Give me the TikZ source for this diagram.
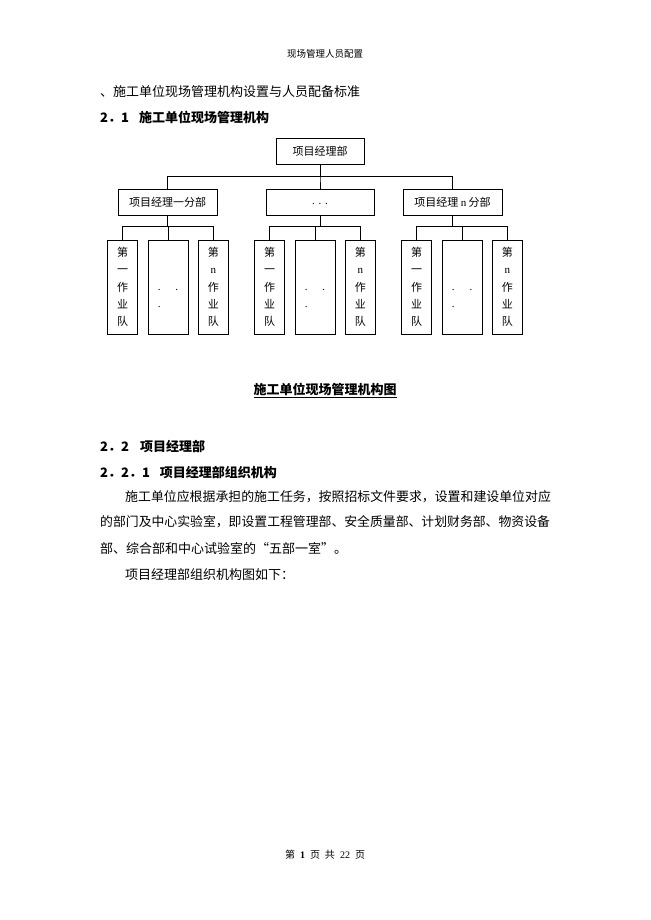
\documentclass[tikz,border=0pt]{standalone}
\usepackage{fontspec}
\setmainfont{Noto Sans CJK SC}
\newfontfamily\lat{Liberation Serif}
\usetikzlibrary{positioning}

\begin{document}
\begin{tikzpicture}[x=1pt, y=-1pt,
  txt/.style={inner sep=0pt, anchor=west, font=\fontsize{13}{13}\selectfont},
  bold/.style={txt, font=\fontsize{13}{13}\selectfont\bfseries},
  box/.style={draw, line width=0.8pt, inner sep=0pt, minimum height=26pt,
              font=\fontsize{11}{13}\selectfont},
  team/.style={box, minimum width=30pt, minimum height=94pt, align=center,
               font=\fontsize{11}{17.3}\selectfont},
  dots/.style={team, minimum width=40pt, align=left},
  link/.style={draw, line width=0.8pt}
]
\useasboundingbox[fill=white] (0,0) rectangle (650,920);

% page text above the chart
\node[font=\fontsize{9.5}{10}\selectfont] (hdr) at (325,54) {现场管理人员配置};
\node[txt] (sec2) at (100,92) {、施工单位现场管理机构设置与人员配备标准};
\node[bold] (sec21) at (100,117) {2．1\hspace{10pt}施工单位现场管理机构};

% chart
\node[box, minimum width=88pt] (pm) at (320,151) {项目经理部};
\node[box, minimum width=99pt] (b1) at (167.5,202) {项目经理一分部};
\node[box, minimum width=108pt] (bx) at (320,202) {\strut\lat .\hspace{3.8pt}.\hspace{3.8pt}.};
\node[box, minimum width=99pt] (bn) at (452.5,202) {项目经理 {\lat n} 分部};

\node[dots] (t1b) at (168,287) {\strut\\\strut\\{\lat .\hspace{15pt}.}\\{\lat .}\\\strut};
\node[team, left=9.5pt of t1b] (t1a) {第\\一\\作\\业\\队};
\node[team, right=9.5pt of t1b] (t1c) {第\\{\lat n}\\作\\业\\队};

\node[dots] (t2b) at (315,287) {\strut\\\strut\\{\lat .\hspace{15pt}.}\\{\lat .}\\\strut};
\node[team, left=9.5pt of t2b] (t2a) {第\\一\\作\\业\\队};
\node[team, right=9.5pt of t2b] (t2c) {第\\{\lat n}\\作\\业\\队};

\node[dots] (tnb) at (462,287) {\strut\\\strut\\{\lat .\hspace{15pt}.}\\{\lat .}\\\strut};
\node[team, left=9.5pt of tnb] (tna) {第\\一\\作\\业\\队};
\node[team, right=9.5pt of tnb] (tnc) {第\\{\lat n}\\作\\业\\队};

\draw[link] (pm.south) |- ([yshift=12.5pt]b1.north) -- (b1.north);
\draw[link] (pm.south) |- ([yshift=12.5pt]bx.north) -- (bx.north);
\draw[link] (pm.south) |- ([yshift=12.5pt]bn.north) -- (bn.north);

\draw[link] (b1.south) |- ([yshift=13pt]t1a.north) -- (t1a.north);
\draw[link] (b1.south) |- ([yshift=13pt]t1b.north) -- (t1b.north);
\draw[link] (b1.south) |- ([yshift=13pt]t1c.north) -- (t1c.north);
\draw[link] (bx.south) |- ([yshift=13pt]t2a.north) -- (t2a.north);
\draw[link] (bx.south) |- ([yshift=13pt]t2b.north) -- (t2b.north);
\draw[link] (bx.south) |- ([yshift=13pt]t2c.north) -- (t2c.north);
\draw[link] (bn.south) |- ([yshift=13pt]tna.north) -- (tna.north);
\draw[link] (bn.south) |- ([yshift=13pt]tnb.north) -- (tnb.north);
\draw[link] (bn.south) |- ([yshift=13pt]tnc.north) -- (tnc.north);

\node[font=\fontsize{13}{13}\selectfont\bfseries] (cap) at (325,390) {\underline{施工单位现场管理机构图}};

% page text below the chart
\node[bold] (sec22) at (100,447) {2．2\hspace{11pt}项目经理部};
\node[bold] (sec221) at (100,473) {2．2．1\hspace{10pt}项目经理部组织机构};
\node[txt, font=\fontsize{12.9}{13}\selectfont] (p1) at (125,497) {施工单位应根据承担的施工任务，按照招标文件要求，设置和建设单位对应};
\node[txt, font=\fontsize{12.85}{13}\selectfont] (p2) at (100,522) {的部门及中心实验室，即设置工程管理部、安全质量部、计划财务部、物资设备};
\node[txt] (p3) at (100,548) {部、综合部和中心试验室的“五部一室”。};
\node[txt] (p4) at (125,575) {项目经理部组织机构图如下：};

\node[font=\fontsize{10}{10}\selectfont] (ftr) at (325,855)
  {第\hspace{5pt}{\lat\bfseries 1}\hspace{5pt}页\hspace{5pt}共\hspace{5pt}{\lat 22}\hspace{5pt}页};
\end{tikzpicture}
\end{document}
